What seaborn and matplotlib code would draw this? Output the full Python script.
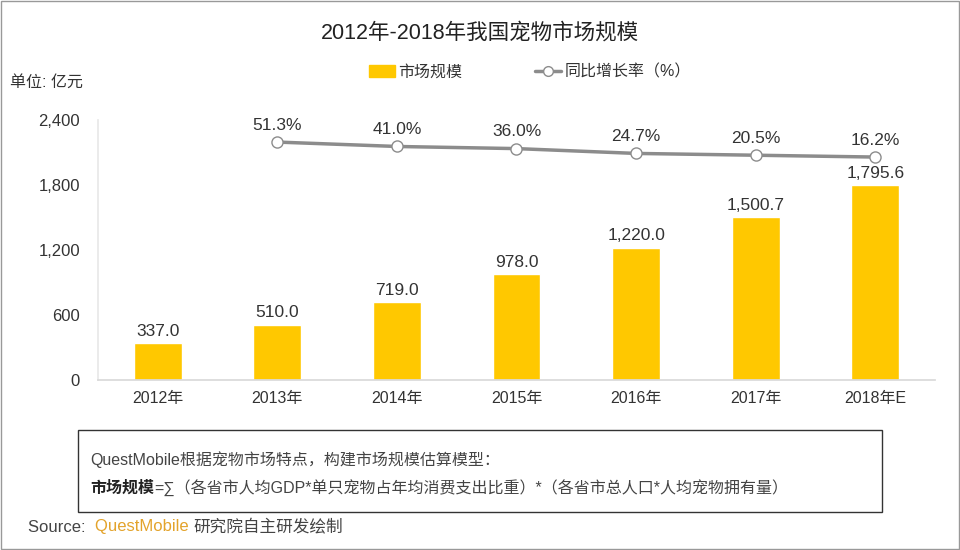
import matplotlib
matplotlib.use("Agg")
import matplotlib.pyplot as plt
import matplotlib.patches as mpatches
from matplotlib.lines import Line2D
import seaborn as sns
import numpy as np
import pandas as pd

years = ['2012年', '2013年', '2014年', '2015年', '2016年', '2017年', '2018年E']
market_size = [337.0, 510.0, 719.0, 978.0, 1220.0, 1500.7, 1795.6]
growth_years = ['2013年', '2014年', '2015年', '2016年', '2017年', '2018年E']
growth_rate = [51.3, 41.0, 36.0, 24.7, 20.5, 16.2]
y_ticks = [0, 600, 1200, 1800, 2400]

bar_color = '#FFC800'
line_color = '#8C8C8C'

sns.set_theme(style='white')
plt.rcParams['font.family'] = ['Liberation Sans', 'Noto Sans CJK SC', 'DejaVu Sans']
plt.rcParams['axes.unicode_minus'] = False

fig = plt.figure(figsize=(9.6, 5.5), dpi=100)
ax = fig.add_axes([98 / 960, 1 - 380 / 550, (935 - 98) / 960, 260 / 550])

df = pd.DataFrame({'year': years, 'size': market_size})
sns.barplot(data=df, x='year', y='size', color=bar_color, width=0.4,
            saturation=1, ax=ax)
ax.set_xlim(-0.5, len(years) - 0.5)
ax.set_ylim(0, 2400)
ax.set_yticks(y_ticks)
ax.set_yticklabels(['{:,}'.format(t) for t in y_ticks], fontsize=12, color='#333333')
ax.tick_params(axis='x', labelsize=11.5, colors='#333333', pad=8)
ax.tick_params(axis='y', pad=13, length=0)
ax.tick_params(axis='x', length=0)
ax.set_xlabel('')
ax.set_ylabel('')
for side in ['top', 'right']:
    ax.spines[side].set_visible(False)
ax.spines['left'].set_color('#E8E8E8')
ax.spines['bottom'].set_color('#D9D9D9')

for i, v in enumerate(market_size):
    ax.text(i, v + 40, '{:,.1f}'.format(v), ha='center', va='bottom',
            fontsize=12.5, color='#333333')

# growth line on hidden secondary axis
ax2 = ax.twinx()
gx = [years.index(y) for y in growth_years]
gdf = pd.DataFrame({'x': gx, 'rate': growth_rate})
sns.lineplot(data=gdf, x='x', y='rate', color=line_color, linewidth=2.5,
             marker='o', markersize=8, markerfacecolor='white',
             markeredgecolor=line_color, markeredgewidth=1, ax=ax2)
ax2.set_ylim(-506, 103)
ax2.set_xlim(-0.5, len(years) - 0.5)
ax2.axis('off')
for x, r in zip(gx, growth_rate):
    ax2.text(x, r + 22, '{:.1f}%'.format(r), ha='center', va='bottom',
             fontsize=12.5, color='#333333')

fig.text(0.5, 1 - 33 / 550, '2012年-2018年我国宠物市场规模', ha='center', va='center',
         fontsize=15.5, color='#222222')
fig.text(10 / 960, 1 - 82 / 550, '单位: 亿元', ha='left', va='center',
         fontsize=11.5, color='#333333')

handles = [mpatches.Patch(color=bar_color),
           Line2D([0], [0], color=line_color, lw=2.5, marker='o', markersize=7,
                  markerfacecolor='white', markeredgecolor=line_color)]
fig.legend(handles, ['市场规模', '同比增长率（%）'], ncol=2, frameon=False,
           loc='center', bbox_to_anchor=(0.552, 1 - 72 / 550),
           fontsize=11.5, handlelength=1.6, handleheight=0.7,
           columnspacing=4.6, handletextpad=0.2, labelcolor='#333333')

# note box
box = mpatches.Rectangle((78 / 960, 1 - 512 / 550), (882 - 78) / 960, 82 / 550,
                         transform=fig.transFigure, fill=False,
                         edgecolor='#333333', lw=1)
fig.patches.append(box)
fig.text(90 / 960, 1 - 460 / 550, 'QuestMobile根据宠物市场特点，构建市场规模估算模型：',
         ha='left', va='center', fontsize=11.5, color='#444444')
t_bold = fig.text(90 / 960, 1 - 488 / 550, '市场规模', ha='left', va='center',
                  fontsize=11.5, color='#222222', fontweight='bold')
fig.canvas.draw()
bb = t_bold.get_window_extent().transformed(fig.transFigure.inverted())
fig.text(bb.x1, 1 - 488 / 550,
         '=∑（各省市人均GDP*单只宠物占年均消费支出比重）*（各省市总人口*人均宠物拥有量）',
         ha='left', va='center', fontsize=11.5, color='#444444')

t_src = fig.text(28 / 960, 1 - 527 / 550, 'Source:  ', ha='left', va='center',
                 fontsize=12, color='#444444')
fig.canvas.draw()
bb = t_src.get_window_extent().transformed(fig.transFigure.inverted())
t_qm = fig.text(bb.x1, 1 - 527 / 550, 'QuestMobile ', ha='left', va='center',
                fontsize=12, color='#E3A32B')
fig.canvas.draw()
bb = t_qm.get_window_extent().transformed(fig.transFigure.inverted())
fig.text(bb.x1, 1 - 527 / 550, '研究院自主研发绘制', ha='left', va='center',
         fontsize=12, color='#444444')

frame = mpatches.Rectangle((0.001, 0.002), 0.998, 0.996, transform=fig.transFigure,
                           fill=False, edgecolor='#999999', lw=1)
fig.patches.append(frame)

fig.savefig('out.png', dpi=100)
